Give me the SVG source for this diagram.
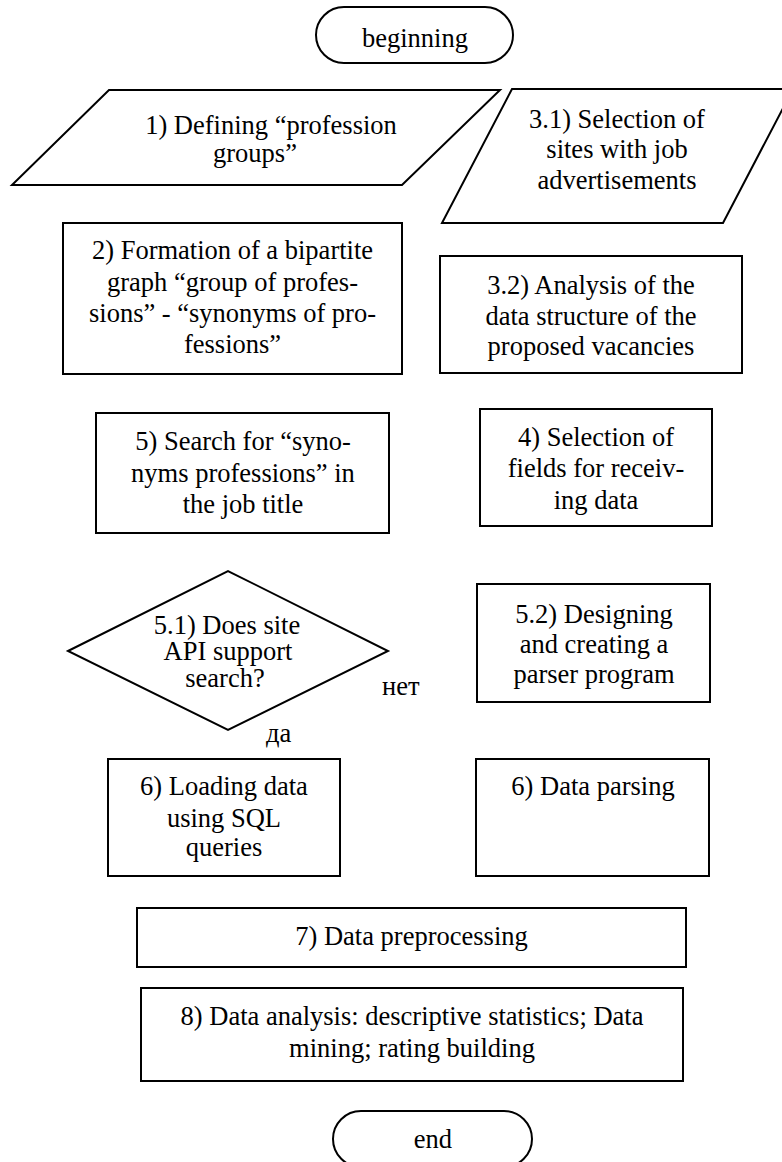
<svg xmlns="http://www.w3.org/2000/svg" width="782" height="1162" viewBox="0 0 782 1162">
<style>
.s{fill:#fff;stroke:#000;stroke-width:2}
text{font-family:"Liberation Serif","Times New Roman",serif;font-size:26.5px;fill:#000;text-anchor:middle}
.l{text-anchor:start}
</style>
<rect x="0" y="0" width="782" height="1162" fill="#fff"/>
<g id="connectors">
<text class="l" x="382" y="695">нет</text>
<text class="l" x="266" y="742">да</text>
</g>
<g id="n-begin"><rect class="s" x="316" y="7" width="197" height="56" rx="28"/><text x="415" y="47">beginning</text></g>
<g id="n-1"><polygon class="s" points="109,90 500,90 402,185 12,185"/><text x="271" y="134">1) Defining “profession</text><text x="255" y="162">groups”</text></g>
<g id="n-3-1"><polygon class="s" points="512,89 793,89 723,223 442,223"/><text x="617" y="128">3.1) Selection of</text><text x="617" y="158">sites with job</text><text x="617" y="189">advertisements</text></g>
<g id="n-2"><rect class="s" x="63" y="223" width="339" height="151"/><text x="232.5" y="259">2) Formation of a bipartite</text><text x="232.5" y="291">graph “group of profes-</text><text x="232.5" y="322">sions” - “synonyms of pro-</text><text x="232.5" y="353">fessions”</text></g>
<g id="n-3-2"><rect class="s" x="440" y="256" width="302" height="117"/><text x="591" y="294">3.2) Analysis of the</text><text x="591" y="325">data structure of the</text><text x="591" y="355">proposed vacancies</text></g>
<g id="n-5"><rect class="s" x="96" y="413" width="293" height="120"/><text x="243" y="450">5) Search for “syno-</text><text x="243" y="482">nyms professions” in</text><text x="243" y="513">the job title</text></g>
<g id="n-4"><rect class="s" x="480" y="409" width="232" height="117"/><text x="596" y="446">4) Selection of</text><text x="596" y="477">fields for receiv-</text><text x="596" y="509">ing data</text></g>
<g id="n-5-1"><polygon class="s" points="68,651 228,571 388,651 228,730"/><text x="227" y="634">5.1) Does site</text><text x="228" y="660">API support</text><text x="225" y="687">search?</text></g>
<g id="n-5-2"><rect class="s" x="477" y="584" width="233" height="118"/><text x="594" y="623">5.2) Designing</text><text x="594" y="653">and creating a</text><text x="594" y="683">parser program</text></g>
<g id="n-6a"><rect class="s" x="108" y="759" width="232" height="117"/><text x="224" y="795">6) Loading data</text><text x="224" y="827">using SQL</text><text x="224" y="856">queries</text></g>
<g id="n-6b"><rect class="s" x="476" y="759" width="233" height="117"/><text x="593" y="795">6) Data parsing</text></g>
<g id="n-7"><rect class="s" x="137" y="908" width="549" height="59"/><text x="411.5" y="945">7) Data preprocessing</text></g>
<g id="n-8"><rect class="s" x="141" y="988" width="542" height="93"/><text x="412" y="1025">8) Data analysis: descriptive statistics; Data</text><text x="412" y="1057">mining; rating building</text></g>
<g id="n-end"><rect class="s" x="333" y="1111" width="199" height="56" rx="28"/><text x="433" y="1148">end</text></g>
</svg>
